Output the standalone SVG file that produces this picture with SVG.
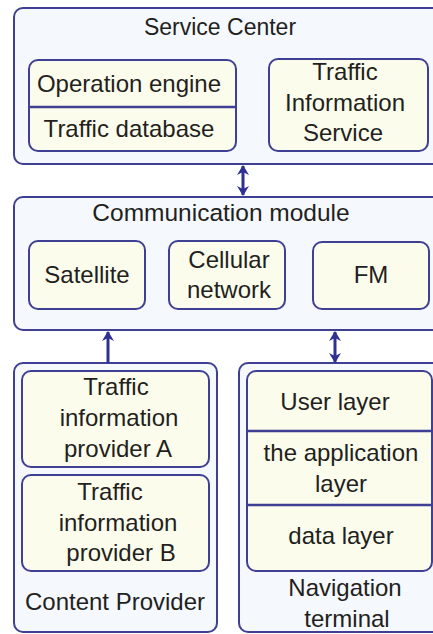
<svg xmlns="http://www.w3.org/2000/svg" width="433" height="634" viewBox="0 0 433 634">
<defs>
<marker id="ah" viewBox="0 0 10 12" refX="9" refY="6" markerWidth="10" markerHeight="12" orient="auto-start-reverse" markerUnits="userSpaceOnUse">
<path d="M0,0 L10,6 L0,12 L3,6 z" fill="#2e3192"/>
</marker>
<style>
.outer{fill:#f5f8fd;stroke:#3f3f94;stroke-width:2}
.inner{fill:#fcfcec;stroke:#3f3f94;stroke-width:2}
.div{stroke:#3f3f94;stroke-width:2.5}
text{font-family:"Liberation Sans",Arial,sans-serif;font-size:24px;fill:#231f20;text-anchor:middle}
.title{font-size:23px}
.conn{stroke:#2e3192;stroke-width:3;fill:none}
</style>
</defs>
<g id="service-center">
<rect class="outer" x="14" y="8" width="440" height="156" rx="9"/>
<text class="title" x="220" y="35">Service Center</text>
</g>
<g id="operation-engine">
<rect class="inner" x="29" y="60" width="207" height="91" rx="9"/>
<line class="div" x1="29" y1="107" x2="236" y2="107"/>
<text x="129" y="92">Operation engine</text>
<text x="129" y="137">Traffic database</text>
</g>
<g id="traffic-information-service">
<rect class="inner" x="269" y="59" width="159" height="92" rx="9"/>
<text x="345" y="80">Traffic</text>
<text x="345" y="111">Information</text>
<text x="343" y="141">Service</text>
</g>
<g id="communication-module">
<rect class="outer" x="14" y="197" width="440" height="133" rx="9"/>
<text x="221" y="221" style="font-size:24.5px">Communication module</text>
</g>
<g id="satellite">
<rect class="inner" x="29" y="241" width="116" height="68" rx="9"/>
<text x="87" y="283">Satellite</text>
</g>
<g id="cellular-network">
<rect class="inner" x="169" y="241" width="116" height="68" rx="9"/>
<text x="229" y="268">Cellular</text>
<text x="229" y="298">network</text>
</g>
<g id="fm">
<rect class="inner" x="313" y="242" width="116" height="67" rx="9"/>
<text x="371" y="283">FM</text>
</g>
<g id="content-provider">
<rect class="outer" x="14" y="363" width="203" height="269" rx="9"/>
<text x="115" y="610">Content Provider</text>
</g>
<g id="provider-a">
<rect class="inner" x="22" y="371" width="187" height="96" rx="9"/>
<text x="116" y="395">Traffic</text>
<text x="119" y="426">information</text>
<text x="118" y="457">provider A</text>
</g>
<g id="provider-b">
<rect class="inner" x="22" y="475" width="187" height="96" rx="9"/>
<text x="110" y="500">Traffic</text>
<text x="118" y="531">information</text>
<text x="121" y="561">provider B</text>
</g>
<g id="navigation-terminal">
<rect class="outer" x="239" y="363" width="215" height="269" rx="9"/>
<rect class="inner" x="247" y="371" width="185" height="200" rx="9"/>
<line class="div" x1="247" y1="431" x2="440" y2="431"/>
<line class="div" x1="247" y1="505" x2="440" y2="505"/>
<text x="335" y="410">User layer</text>
<text x="341" y="461">the application</text>
<text x="341" y="492">layer</text>
<text x="341" y="544">data layer</text>
<text x="345" y="596">Navigation</text>
<text x="347" y="627">terminal</text>
</g>
<g id="connectors">
<line class="conn" x1="243" y1="166" x2="243" y2="195" marker-start="url(#ah)" marker-end="url(#ah)"/>
<line class="conn" x1="108" y1="363" x2="108" y2="332" marker-end="url(#ah)"/>
<line class="conn" x1="335" y1="332" x2="335" y2="362" marker-start="url(#ah)" marker-end="url(#ah)"/>
</g>
</svg>
